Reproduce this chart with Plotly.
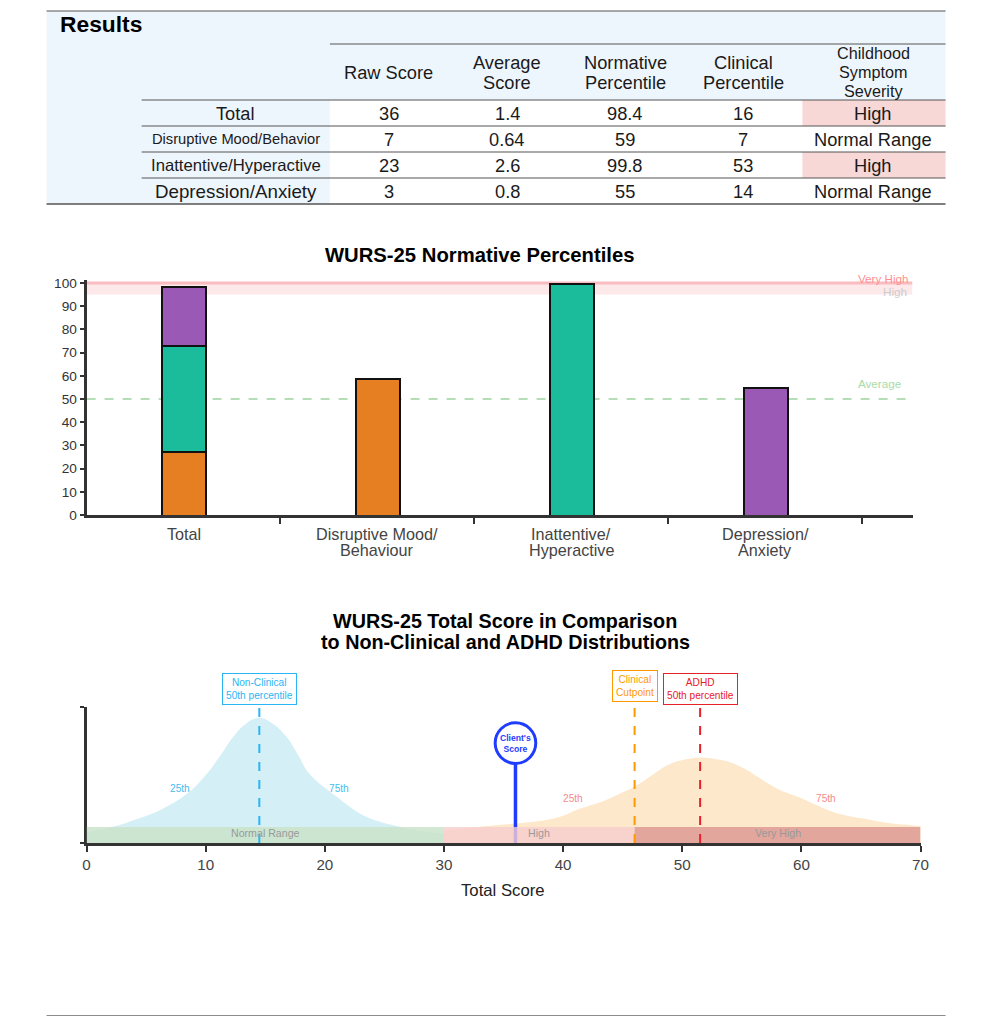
import plotly.graph_objects as go

# page has a body margin, so the figure is drawn a bit smaller than the window
W, H = 976, 1008
OFF = 8
# measured: the page gets shrunk a little when photographed -> undo it
SX, X0 = 0.9866, 4.6
SY, Y0 = 0.988, 4.1
FS = 1 / 0.987
FONT = "Liberation Sans"

# ---------------- data ----------------
# results table
row_labels = ["Total", "Disruptive Mood/Behavior", "Inattentive/Hyperactive", "Depression/Anxiety"]
raw_scores = [36, 7, 23, 3]
avg_scores = [1.4, 0.64, 2.6, 0.8]
norm_pct = [98.4, 59, 99.8, 55]
clin_pct = [16, 7, 53, 14]
severity = ["High", "Normal Range", "High", "Normal Range"]
col_headers = [["Raw Score"], ["Average", "Score"], ["Normative", "Percentile"],
               ["Clinical", "Percentile"], ["Childhood", "Symptom", "Severity"]]

# normative percentile bars
bar_cats = [["Total"], ["Disruptive Mood/", "Behaviour"], ["Inattentive/", "Hyperactive"], ["Depression/", "Anxiety"]]
total_parts = [27.2, 45.9, 25.3]   # orange / teal / purple pieces of the Total bar
bar_colors = ["#e67e22", "#1abc9c", "#9b59b6"]
avg_level = 50
high_band = [95, 100]

# total score distributions
nc_x = [0, 2.2, 4, 6.1, 8.4, 10.1, 11.2, 12.3, 13.4, 14.5, 15.6, 16.8, 17.8, 18.7, 21.0, 22.9, 24.5, 26.3, 28, 30]
nc_y = [0.08, 0.12, 0.17, 0.24, 0.36, 0.51, 0.64, 0.78, 0.88, 0.92, 0.88, 0.78, 0.64, 0.51, 0.34, 0.22, 0.16, 0.12, 0.09, 0.07]
adhd_x = [30, 33, 35.5, 38.6, 40, 41, 43.1, 44.8, 45.9, 47.5, 48.7, 50, 51.6, 53.0, 53.8, 55.4, 56.3, 58.2, 60, 61,
          63, 65.2, 67.5, 69.4, 71.5]
adhd_y = [0.09, 0.12, 0.14, 0.17, 0.2, 0.24, 0.3, 0.365, 0.41, 0.5, 0.57, 0.61, 0.63, 0.615, 0.6, 0.54, 0.49, 0.39,
          0.33, 0.29, 0.22, 0.18, 0.145, 0.13, 0.115]
client_score = 36
nc_median = 14.5
adhd_median = 51.5
cutpoint = 46
nc_quartiles = [7.8, 21.2]
adhd_quartiles = [40.8, 62.1]
range_names = ["Normal Range", "High", "Very High"]
range_edges = [0, 30, 46, 70]


def px(x):
    return ((x - X0) / SX - OFF) / W


def py(y):
    return 1 - ((y - Y0) / SY - OFF) / H


def f(size):
    return round(size * FS, 2)


fig = go.Figure()
shapes = []
annotations = []


def txt(x, y, s, size, color="#1a1a1a", bold=False, xanchor="center"):
    annotations.append(dict(x=px(x), y=py(y), xref="paper", yref="paper",
                            text=f"<b>{s}</b>" if bold else s, showarrow=False,
                            xanchor=xanchor, yanchor="middle",
                            font=dict(family=FONT, size=f(size), color=color)))


def hline(x0, x1, y, color="#555", width=1.2):
    shapes.append(dict(type="line", xref="paper", yref="paper", x0=px(x0), x1=px(x1), y0=py(y), y1=py(y),
                       line=dict(color=color, width=width)))


def rect(x0, x1, y0, y1, color):
    shapes.append(dict(type="rect", xref="paper", yref="paper", x0=px(x0), x1=px(x1), y0=py(y1), y1=py(y0),
                       fillcolor=color, line=dict(width=0), layer="below"))


# ================= 1. results table =================
BLUE = "#eef6fd"
PINK = "#f8d7d7"
rect(47, 945, 11, 100, BLUE)
rect(47, 330, 100, 204, BLUE)

col_x = [389, 507, 625, 743, 873]
row_y = [113, 139, 165, 191]
label_sizes = [18, 14.5, 16.5, 18.5]

for i, sev in enumerate(severity):
    if sev == "High":
        rect(802, 945, row_y[i] - 13, row_y[i] + 13, PINK)

hline(47, 945, 11)
hline(330, 945, 44)
hline(142, 945, 100)
for r in row_y[:-1]:
    hline(142, 945, r + 13)
hline(47, 945, 204, width=1.5)

txt(58, 24, "Results", 22.5, color="#000", bold=True, xanchor="left")
for j, lines in enumerate(col_headers):
    size = 16 if len(lines) == 3 else 18
    step = 19 if len(lines) == 3 else 20
    top = 72 - step * (len(lines) - 1) / 2
    for k, line in enumerate(lines):
        txt(col_x[j], top + k * step, line, size)

for i in range(len(row_labels)):
    txt(236, row_y[i], row_labels[i], label_sizes[i])
    vals = [raw_scores[i], avg_scores[i], norm_pct[i], clin_pct[i], severity[i]]
    for j, v in enumerate(vals):
        txt(col_x[j], row_y[i], str(v), 18)

# ================= 2. normative percentile bars =================
sub_pct = norm_pct[1:]
for k in range(3):
    fig.add_trace(go.Bar(
        x=[0, k + 1], y=[total_parts[k], sub_pct[k]],
        width=0.227, marker=dict(color=bar_colors[k], line=dict(color="#111", width=2)),
        xaxis="x", yaxis="y", showlegend=False, hoverinfo="skip"))

shapes.append(dict(type="rect", xref="x", yref="y", x0=-0.5, x1=3.76, y0=high_band[0], y1=high_band[1],
                   fillcolor="#fde8ea", line=dict(width=0), layer="below"))
shapes.append(dict(type="line", xref="x", yref="y", x0=-0.5, x1=3.76, y0=100, y1=100,
                   line=dict(color="#f8bcc1", width=3), layer="below"))
shapes.append(dict(type="line", xref="x", yref="y", x0=-0.5, x1=3.74, y0=avg_level, y1=avg_level,
                   line=dict(color="#9fd49f", width=1.5, dash="dash"), layer="below"))

annotations += [
    dict(x=3.61, y=py(278.5), xref="x", yref="paper", yanchor="middle", text="Very High", showarrow=False,
         font=dict(family=FONT, size=f(11.5), color="#ff8f8f")),
    dict(x=3.67, y=96.3, xref="x", yref="y", yanchor="middle", text="High", showarrow=False,
         font=dict(family=FONT, size=f(11.5), color="#cccccc")),
    dict(x=3.59, y=56.5, xref="x", yref="y", yanchor="middle", text="Average", showarrow=False,
         font=dict(family=FONT, size=f(11.5), color="#a8dca8")),
]
for i, lines in enumerate(bar_cats):
    for k, line in enumerate(lines):
        annotations.append(dict(x=i, y=py(534 + 16 * k), xref="x", yref="paper", text=line, showarrow=False,
                                yanchor="middle", font=dict(family=FONT, size=f(16), color="#444")))

txt(480, 255, "WURS-25 Normative Percentiles", 20, color="#000", bold=True)

# ================= 3. distributions =================
fig.add_trace(go.Scatter(x=nc_x, y=nc_y, mode="lines", line=dict(width=0, shape="spline", smoothing=1.2),
                         fill="tozeroy", fillcolor="rgba(160,220,235,0.45)",
                         xaxis="x3", yaxis="y3", showlegend=False, hoverinfo="skip"))
fig.add_trace(go.Scatter(x=adhd_x, y=adhd_y, mode="lines", line=dict(width=0, shape="spline", smoothing=1.2),
                         fill="tozeroy", fillcolor="rgba(252,190,110,0.35)",
                         xaxis="x3", yaxis="y3", showlegend=False, hoverinfo="skip"))

CLIENT = "#1f3cff"
client_top = 0.735
shapes.append(dict(type="line", xref="x3", yref="y3", x0=client_score, x1=client_score, y0=0,
                   y1=client_top - 20 / 136, line=dict(color=CLIENT, width=3.5)))

band_colors = ["rgb(200,226,200)", "rgb(246,205,205)", "rgb(219,149,145)"]
for k, name in enumerate(range_names):
    x0, x1 = range_edges[k], range_edges[k + 1]
    shapes.append(dict(type="rect", xref="x3", yref="y3", x0=x0, x1=x1, y0=0, y1=0.118,
                       fillcolor=band_colors[k], opacity=0.8, line=dict(width=0)))
    annotations.append(dict(x=(x0 + x1) / 2, y=0.075, xref="x3", yref="y3", text=name, showarrow=False,
                            font=dict(family=FONT, size=f(10.5), color="#999")))

markers = [(nc_median, "#29b6f6", "Non-Clinical<br>50th percentile", 705),
           (cutpoint, "#ff9800", "Clinical<br>Cutpoint", 702),
           (adhd_median, "#e8202a", "ADHD<br>50th percentile", 705)]
for xv, col, label, bottom in markers:
    shapes.append(dict(type="line", xref="x3", yref="y3", x0=xv, x1=xv, y0=0, y1=1,
                       line=dict(color=col, width=2, dash="dash")))
    annotations.append(dict(x=xv, y=py(bottom), xref="x3", yref="paper", text=label, showarrow=False,
                            yanchor="bottom", bgcolor="white", bordercolor=col, borderwidth=1, borderpad=3,
                            font=dict(family=FONT, size=f(10), color=col)))

shapes.append(dict(type="circle", xref="x3", yref="y3", xsizemode="pixel", ysizemode="pixel",
                   xanchor=client_score, yanchor=client_top, x0=-20.3, x1=20.3, y0=-20.3, y1=20.3,
                   fillcolor="white", line=dict(color=CLIENT, width=3)))
annotations.append(dict(x=client_score, y=client_top, xref="x3", yref="y3", text="<b>Client's<br>Score</b>",
                        showarrow=False, font=dict(family=FONT, size=f(8.5), color=CLIENT)))

for q, col, yv in [(nc_quartiles, "#45bdf0", 0.4), (adhd_quartiles, "#f58b8b", 0.33)]:
    for xv, name in zip(q, ["25th", "75th"]):
        annotations.append(dict(x=xv, y=yv, xref="x3", yref="y3", text=name, showarrow=False,
                                font=dict(family=FONT, size=f(10), color=col)))

txt(505, 621, "WURS-25 Total Score in Comparison", 19.5, color="#000", bold=True)
txt(505, 642, "to Non-Clinical and ADHD Distributions", 19.5, color="#000", bold=True)
txt(503, 890, "Total Score", 16.5, color="#222")

# page footer
hline(47, 945, 1016, color="#666", width=1.5)

AX = "#333"
fig.update_layout(
    width=W, height=H, autosize=False,
    margin=dict(l=0, r=0, t=0, b=0),
    paper_bgcolor="white", plot_bgcolor="rgba(0,0,0,0)",
    barmode="stack", bargap=0,
    font=dict(family=FONT, color="#333"),
    xaxis=dict(domain=[px(87), px(912)], range=[-0.5, 3.76], anchor="y",
               tickvals=[0.5, 1.5, 2.5, 3.5], showticklabels=False, ticks="outside", ticklen=6, tickwidth=2,
               tickcolor=AX, showline=True, linewidth=3, linecolor=AX, showgrid=False, zeroline=False),
    yaxis=dict(domain=[py(515), py(515 - 101.5 * 2.32)], range=[0, 101.5], anchor="x",
               tickvals=list(range(0, 101, 10)), ticks="outside", ticklen=4, tickwidth=1.5, tickcolor=AX,
               tickfont=dict(family=FONT, size=f(13.5), color="#333"),
               showline=True, linewidth=3, linecolor=AX, showgrid=False, zeroline=False),
    xaxis3=dict(domain=[px(87), px(920)], range=[0, 70], anchor="y3",
                tickvals=list(range(0, 71, 10)), ticks="outside", ticklen=6, tickwidth=2, tickcolor=AX,
                tickfont=dict(family=FONT, size=f(15), color="#444"),
                showline=True, linewidth=3, linecolor=AX, showgrid=False, zeroline=False),
    yaxis3=dict(domain=[py(843), py(707)], range=[0, 1], anchor="x3",
                tickvals=[0, 1], showticklabels=False, ticks="outside", ticklen=4, tickwidth=2, tickcolor=AX,
                showline=True, linewidth=3, linecolor=AX, showgrid=False, zeroline=False),
    shapes=shapes,
    annotations=annotations,
)

fig.write_html("out.html")
